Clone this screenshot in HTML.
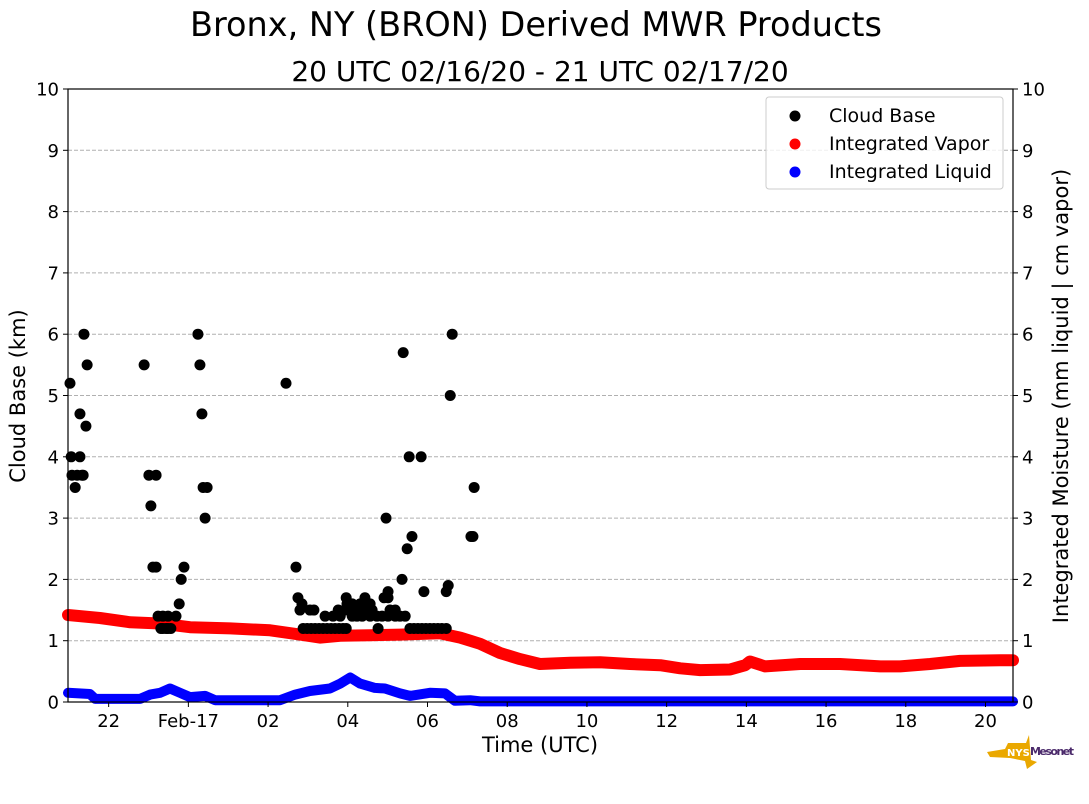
<!DOCTYPE html>
<html><head><meta charset="utf-8"><style>
html,body{margin:0;padding:0;background:#fff;}
svg{display:block;font-family:"DejaVu Sans","Liberation Sans",sans-serif;}
</style></head><body>
<svg id="chart" width="1089" height="804">
<text x="536" y="36" font-size="33.5" text-anchor="middle">Bronx, NY (BRON) Derived MWR Products</text>
<text x="540" y="81" font-size="28" text-anchor="middle">20 UTC 02/16/20 - 21 UTC 02/17/20</text>
<g id="grid"></g>
<g id="marks"></g>
<rect x="68" y="89" width="945" height="613" fill="none" stroke="#000" stroke-width="1.2"/>
<g id="axes"></g>
<text x="540" y="752" font-size="21" text-anchor="middle">Time (UTC)</text>
<text transform="translate(25,396) rotate(-90)" font-size="21" text-anchor="middle">Cloud Base (km)</text>
<text transform="translate(1068,396) rotate(-90)" font-size="21" text-anchor="middle">Integrated Moisture (mm liquid | cm vapor)</text>
<g>
<rect x="766" y="97" width="237" height="92" rx="3" fill="#fff" fill-opacity="0.8" stroke="#ccc"/>
<circle cx="795" cy="116" r="5.5" fill="#000"/>
<text x="829" y="122" font-size="19">Cloud Base</text>
<circle cx="795" cy="144" r="5.5" fill="#f00"/>
<text x="829" y="150" font-size="19">Integrated Vapor</text>
<circle cx="795" cy="172" r="5.5" fill="#00f"/>
<text x="829" y="178" font-size="19">Integrated Liquid</text>
</g>
<g>
<path d="M987 752 L1005 749 L1008 743 L1026 743 L1029 735 L1031 760 L1037 762 L1027 769 L1025 761 L1010 758 L990 757 Z" fill="#eaa800"/>
<text x="1007" y="756" font-size="10" font-weight="bold" fill="#fff">NYS</text>
<text x="1030" y="755" font-size="11" font-weight="bold" fill="#4b2a6b" textLength="44">Mesonet</text>
</g>
</svg>
<script>
const cloudTimes=[1.03,1.06,1.28,1.08,1.21,1.36,1.16,1.28,1.43,1.38,1.46,1.33,
2.89,3.01,3.19,3.06,3.11,3.19,3.24,3.36,3.49,3.31,3.36,3.44,3.49,3.56,3.69,3.77,3.82,3.89,4.24,4.29,4.34,4.37,4.47,4.42,
6.45,6.70,6.75,6.85,6.80,7.05,7.15,6.88,6.98,7.08,7.18,7.28,7.38,7.48,7.58,7.68,7.78,7.88,7.96,8.76,
7.43,7.63,7.81,8.11,8.23,8.36,8.56,8.73,8.86,9.01,9.19,9.31,9.44,7.76,7.93,8.06,8.23,8.43,8.61,9.06,9.19,
7.98,8.11,8.31,8.56,7.96,8.43,8.96,9.39,9.54,9.84,9.49,9.61,9.36,9.01,9.91,8.91,9.01,
9.56,9.66,9.76,9.86,9.96,10.06,10.16,10.26,10.36,10.47,10.62,10.57,11.17,11.09,11.14,10.52,10.47];
const cloudKm=[5.2,4.0,4.0,3.7,3.7,3.7,3.5,4.7,4.5,6.0,5.5,3.7,
5.5,3.7,3.7,3.2,2.2,2.2,1.4,1.4,1.4,1.2,1.2,1.2,1.2,1.2,1.4,1.6,2.0,2.2,6.0,5.5,4.7,3.5,3.5,3.0,
5.2,2.2,1.7,1.6,1.5,1.5,1.5,1.2,1.2,1.2,1.2,1.2,1.2,1.2,1.2,1.2,1.2,1.2,1.2,1.2,
1.4,1.4,1.4,1.4,1.4,1.4,1.4,1.4,1.4,1.4,1.4,1.4,1.4,1.5,1.5,1.5,1.5,1.5,1.5,1.5,1.5,
1.6,1.6,1.6,1.6,1.7,1.7,3.0,5.7,4.0,4.0,2.5,2.7,2.0,1.8,1.8,1.7,1.7,
1.2,1.2,1.2,1.2,1.2,1.2,1.2,1.2,1.2,1.2,6.0,5.0,3.5,2.7,2.7,1.9,1.8];
const vaporTimes=[0.98,1.78,2.54,3.29,4.04,5.05,6.05,6.80,7.30,7.81,8.56,9.31,10.31,10.82,11.32,11.82,12.32,12.82,13.58,14.33,15.08,15.84,16.34,16.84,17.59,17.97,18.09,18.47,19.35,20.35,21.36,21.86,22.61,23.36,24.37,24.69];
const vaporVals=[1.42,1.37,1.30,1.28,1.22,1.20,1.17,1.10,1.05,1.08,1.09,1.10,1.12,1.05,0.95,0.80,0.70,0.62,0.64,0.65,0.62,0.60,0.55,0.52,0.53,0.60,0.66,0.58,0.62,0.62,0.58,0.58,0.62,0.67,0.68,0.68];
const liqTimes=[0.98,1.53,1.66,2.79,3.04,3.29,3.54,3.79,4.04,4.42,4.67,6.30,6.68,7.05,7.55,7.81,8.06,8.31,8.68,8.93,9.31,9.56,10.06,10.44,10.69,11.07,11.32,24.69];
const liqVals=[0.15,0.13,0.05,0.05,0.12,0.15,0.22,0.15,0.08,0.10,0.03,0.03,0.12,0.18,0.22,0.30,0.40,0.30,0.23,0.22,0.14,0.10,0.15,0.14,0.02,0.03,0.01,0.01];
const yTicks=[0,1,2,3,4,5,6,7,8,9,10];
const xTickHours=[2,4,6,8,10,12,14,16,18,20,22,24];
const xTickLabels=["22","Feb-17","02","04","06","08","10","12","14","16","18","20"];
const NS="http://www.w3.org/2000/svg";
const X0=68,X1=1013,Y0=702,Y1=89,H0=0.98,H1=24.69;
function xs(h){return X0+(h-H0)/(H1-H0)*(X1-X0);}
function ys(v){return Y0-v/10*(Y0-Y1);}
function mk(tag,attrs,parent){const e=document.createElementNS(NS,tag);for(const k in attrs)e.setAttribute(k,attrs[k]);parent.appendChild(e);return e;}
const grid=document.getElementById('grid'),axes=document.getElementById('axes'),marks=document.getElementById('marks');
yTicks.forEach(v=>{
  const y=ys(v);
  if(v>0&&v<10){const g=mk('line',{x1:X0,x2:X1,y1:y,y2:y,stroke:'#b0b0b0','stroke-dasharray':'4,2'},grid);
  
  }
  const t1=mk('line',{x1:X0-5,x2:X0,y1:y,y2:y,stroke:'#000'},axes);
  
  
  const t2=mk('line',{x1:X1,x2:X1+5,y1:y,y2:y,stroke:'#000'},axes);
  
  
  const l=mk('text',{x:X0-9,y:y+6.5,'font-size':'18','text-anchor':'end'},axes);l.textContent=v;
  
  
  const r=mk('text',{x:X1+9,y:y+6.5,'font-size':'18'},axes);r.textContent=v;
  
  
});
xTickHours.forEach((h,i)=>{
  const x=xs(h);
  const t=mk('line',{x1:x,x2:x,y1:Y0,y2:Y0+5,stroke:'#000'},axes);
  
  
  const l=mk('text',{x:x,y:Y0+25,'font-size':'18','text-anchor':'middle'},axes);l.textContent=xTickLabels[i];
  
  
});
function line(times,vals,color,w,name){
  const pts=times.map((h,i)=>xs(h).toFixed(1)+','+ys(vals[i]).toFixed(1)).join(' ');
  const p=mk('polyline',{points:pts,fill:'none',stroke:color,'stroke-width':w,'stroke-linejoin':'round','stroke-linecap':'round'},marks);
  
  
}
line(vaporTimes,vaporVals,'#f00',12,'integrated-vapor-series');
line(liqTimes,liqVals,'#00f',10,'integrated-liquid-series');
cloudTimes.forEach((h,i)=>{
  const c=mk('circle',{cx:xs(h),cy:ys(cloudKm[i]),r:5.5,fill:'#000'},marks);
  
  
});
</script>
</body></html>
